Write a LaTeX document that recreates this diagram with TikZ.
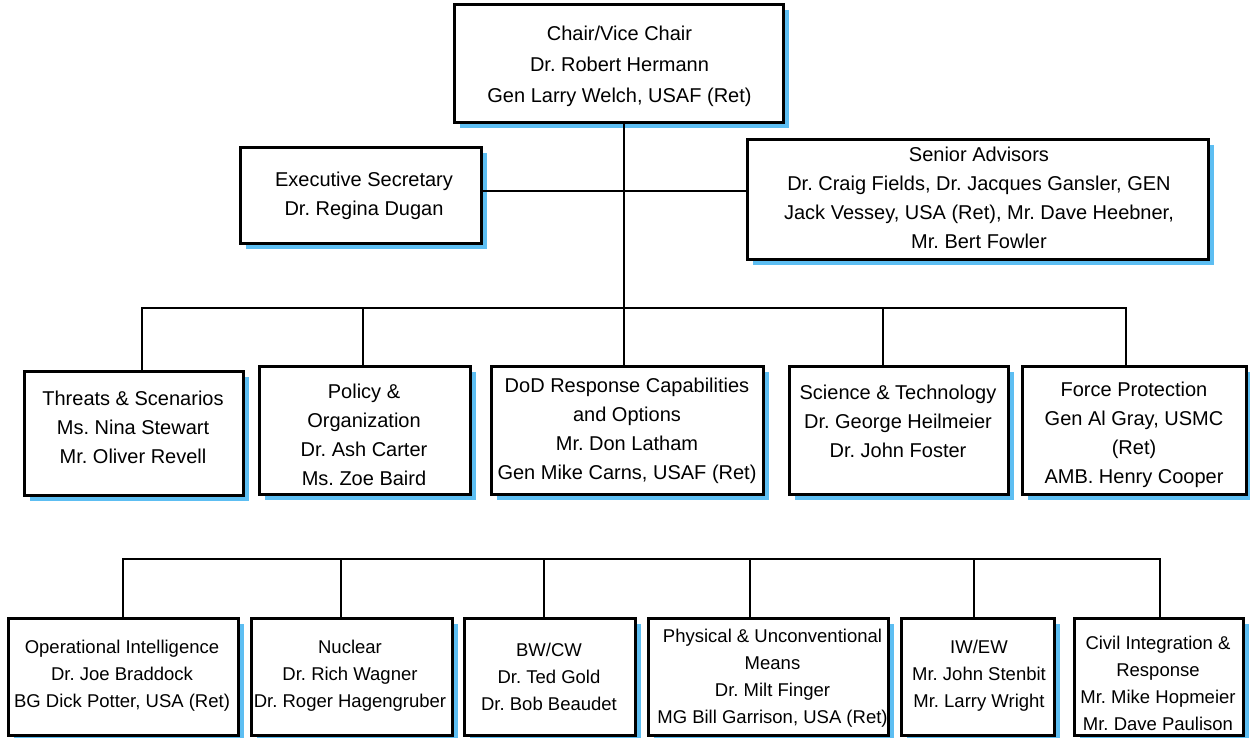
\documentclass[tikz,border=0pt]{standalone}
\usepackage{fontspec}
\setmainfont{Liberation Sans}
\frenchspacing
\usetikzlibrary{shadows}
\definecolor{sb}{RGB}{93,190,242}
\begin{document}
\begin{tikzpicture}[x=0.5pt,y=-0.5pt,
  box/.style={draw=black, fill=white, line width=1.5pt, inner sep=0pt,
    general shadow={fill=sb, shadow xshift=2.75pt, shadow yshift=-2.75pt}},
  conn/.style={line width=1.2pt, line join=miter},
  txt/.style={align=center, inner sep=0pt, font=\fontsize{10}{14.5}\selectfont},
  txttop/.style={align=center, inner sep=0pt, font=\fontsize{10}{15.5}\selectfont},
  txtsm/.style={align=center, inner sep=0pt, font=\fontsize{9.25}{13.5}\selectfont}]
\useasboundingbox (0,0) rectangle (1250,738);

% junction coordinates
\coordinate (trunk) at (624,308);
\coordinate (sec) at (624,191);
\coordinate (d1) at (142,308);
\coordinate (d2) at (363,308);
\coordinate (d4) at (883,308);
\coordinate (d5) at (1126,308);
\coordinate (e1) at (123,559);
\coordinate (e2) at (341,559);
\coordinate (e3) at (544,559);
\coordinate (e4) at (750,559);
\coordinate (e5) at (974,559);
\coordinate (e6) at (1160,559);

% boxes
\node[box, minimum width=164.5pt, minimum height=59pt] (top) at (618.5,64) {};
\node[box, minimum width=120.5pt, minimum height=48pt] (exec) at (360.5,196) {};
\node[box, minimum width=230.5pt, minimum height=60pt] (senior) at (977.5,200) {};

\node[box, minimum width=109.5pt, minimum height=61.5pt] (threats) at (133.5,433.5) {};
\node[box, minimum width=105.5pt, minimum height=63.5pt] (policy) at (364.5,430.5) {};
\node[box, minimum width=136pt, minimum height=63.5pt] (dod) at (627,430.5) {};
\node[box, minimum width=109.5pt, minimum height=63.5pt] (st) at (898.5,430.5) {};
\node[box, minimum width=112pt, minimum height=63.5pt] (force) at (1134,430.5) {};

\node[box, minimum width=115pt, minimum height=58.5pt] (opint) at (123,676.5) {};
\node[box, minimum width=100.5pt, minimum height=58.5pt] (nuclear) at (351.5,676.5) {};
\node[box, minimum width=85.5pt, minimum height=58.5pt] (bwcw) at (549.5,676.5) {};
\node[box, minimum width=120pt, minimum height=58.5pt] (phys) at (768,676.5) {};
\node[box, minimum width=76.5pt, minimum height=58.5pt] (iwew) at (977.5,676.5) {};
\node[box, minimum width=84.5pt, minimum height=58.5pt] (civil) at (1158.5,676.5) {};

% connectors
\draw[conn] (top.south -| trunk) -- (dod.north -| trunk);
\draw[conn] (exec.east |- sec) -- (senior.west |- sec);
\draw[conn] (threats.north -| d1) -- (d1) -- (d5) -- (force.north -| d5);
\draw[conn] (d2) -- (policy.north -| d2);
\draw[conn] (d4) -- (st.north -| d4);
\draw[conn] (opint.north -| e1) -- (e1) -- (e6) -- (civil.north -| e6);
\draw[conn] (e2) -- (nuclear.north -| e2);
\draw[conn] (e3) -- (bwcw.north -| e3);
\draw[conn] (e4) -- (phys.north -| e4);
\draw[conn] (e5) -- (iwew.north -| e5);

% texts
\node[txttop] (top-t) at (619.5,66) {Chair/Vice Chair\\Dr. Robert Hermann\\Gen Larry Welch, USAF (Ret)};
\node[txt] (exec-t) at (364,196) {Executive Secretary\\Dr. Regina Dugan};
\node[txt] (senior-t) at (979,197.5) {Senior Advisors\\Dr. Craig Fields, Dr. Jacques Gansler, GEN\\Jack Vessey, USA (Ret), Mr. Dave Heebner,\\Mr. Bert Fowler};

\node[txt] (threats-t) at (133,427.5) {Threats \& Scenarios\\Ms. Nina Stewart\\Mr. Oliver Revell};
\node[txt] (policy-t) at (364,434.5) {Policy \&\\Organization\\Dr. Ash Carter\\Ms. Zoe Baird};
\node[txt] (dod-t) at (627,431) {DoD Response Capabilities\\and Options\\Mr. Don Latham\\Gen Mike Carns, USAF (Ret)};
\node[txt] (st-t) at (898,421) {Science \& Technology\\Dr. George Heilmeier\\Dr. John Foster};
\node[txt] (force-t) at (1134,435) {Force Protection\\Gen Al Gray, USMC\\(Ret)\\AMB. Henry Cooper};

\node[txtsm] (opint-t) at (122,675.5) {Operational Intelligence\\Dr. Joe Braddock\\BG Dick Potter, USA (Ret)};
\node[txtsm] (nuclear-t) at (350,675.5) {Nuclear\\Dr. Rich Wagner\\Dr. Roger Hagengruber};
\node[txtsm] (bwcw-t) at (549,676.5) {BW/CW\\Dr. Ted Gold\\Dr. Bob Beaudet};
\node[txtsm] (phys-t) at (772.5,678.5) {Physical \& Unconventional\\Means\\Dr. Milt Finger\\MG Bill Garrison, USA (Ret)};
\node[txtsm] (iwew-t) at (979,675.5) {IW/EW\\Mr. John Stenbit\\Mr. Larry Wright};
\node[txtsm] (civil-t) at (1158,683) {Civil Integration \&\\Response\\Mr. Mike Hopmeier\\Mr. Dave Paulison};
\end{tikzpicture}
\end{document}
